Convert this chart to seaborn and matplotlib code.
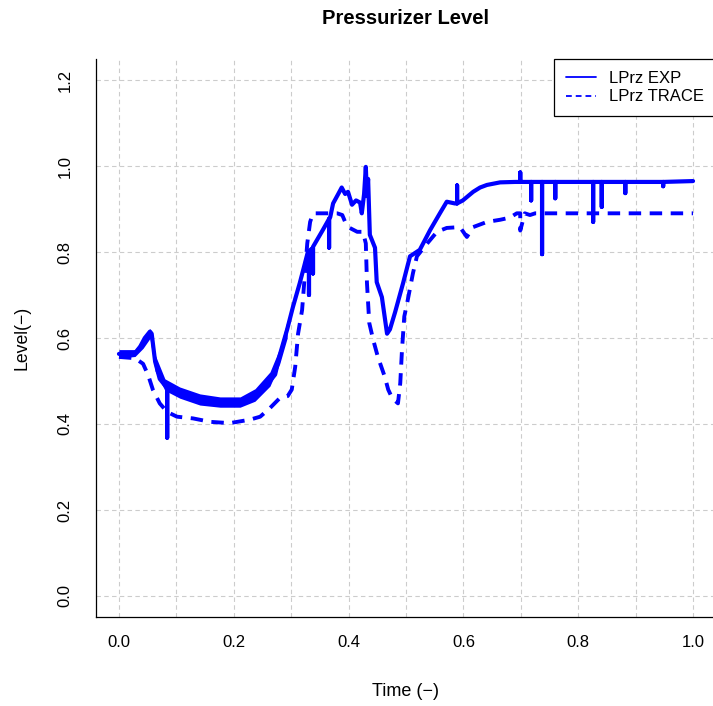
import numpy as np
import pandas as pd
import matplotlib
matplotlib.use("Agg")
import matplotlib.pyplot as plt
from matplotlib.lines import Line2D
import seaborn as sns

# ---------------- data ----------------
exp_t = [0.000, 0.016, 0.028, 0.037, 0.045, 0.054, 0.057, 0.063, 0.071, 0.080,
         0.084, 0.084, 0.084, 0.098, 0.115, 0.132, 0.159, 0.185, 0.211, 0.237,
         0.254, 0.272, 0.280, 0.293, 0.303, 0.315, 0.324, 0.329, 0.331, 0.331,
         0.331, 0.338, 0.338, 0.338, 0.355, 0.366, 0.366, 0.366, 0.368, 0.373,
         0.382, 0.388, 0.394, 0.399, 0.406, 0.413, 0.420, 0.423, 0.427, 0.430,
         0.432, 0.434, 0.437, 0.446, 0.449, 0.458, 0.467, 0.472, 0.481, 0.495,
         0.507, 0.524, 0.542, 0.559, 0.571, 0.585, 0.589, 0.589, 0.589, 0.599,
         0.617, 0.629, 0.641, 0.664, 0.690, 0.699, 0.699, 0.699, 0.718, 0.718,
         0.718, 0.737, 0.737, 0.737, 0.760, 0.760, 0.760, 0.826, 0.826, 0.826,
         0.841, 0.841, 0.841, 0.882, 0.882, 0.882, 0.948, 0.948, 0.948, 1.000]
exp_v = [0.563, 0.565, 0.565, 0.580, 0.600, 0.615, 0.610, 0.545, 0.505, 0.490,
         0.487, 0.368, 0.487, 0.475, 0.468, 0.462, 0.455, 0.451, 0.452, 0.468,
         0.485, 0.515, 0.560, 0.620, 0.672, 0.728, 0.774, 0.800, 0.802, 0.700,
         0.802, 0.810, 0.750, 0.812, 0.851, 0.877, 0.810, 0.877, 0.881, 0.913,
         0.935, 0.950, 0.935, 0.940, 0.910, 0.920, 0.915, 0.890, 0.935, 0.998,
         0.930, 0.970, 0.840, 0.810, 0.730, 0.695, 0.610, 0.620, 0.660, 0.728,
         0.790, 0.805, 0.851, 0.890, 0.917, 0.913, 0.913, 0.955, 0.913, 0.920,
         0.940, 0.950, 0.956, 0.962, 0.963, 0.963, 0.985, 0.963, 0.963, 0.920,
         0.963, 0.963, 0.795, 0.963, 0.963, 0.925, 0.963, 0.963, 0.870, 0.963,
         0.963, 0.905, 0.963, 0.963, 0.937, 0.963, 0.963, 0.953, 0.963, 0.965]

# noisy envelope of the measured signal in the early transient
band_t = [0.000, 0.028, 0.042, 0.054, 0.063, 0.080, 0.106, 0.141, 0.176,
          0.211, 0.237, 0.263, 0.280, 0.293]
band_lo = [0.553, 0.557, 0.576, 0.599, 0.523, 0.478, 0.460, 0.444, 0.439,
           0.439, 0.453, 0.488, 0.540, 0.600]
band_hi = [0.573, 0.573, 0.598, 0.622, 0.561, 0.505, 0.486, 0.470, 0.463,
           0.463, 0.482, 0.521, 0.576, 0.640]

trace_t = [0.000, 0.028, 0.042, 0.051, 0.059, 0.071, 0.084, 0.101, 0.129, 0.159,
           0.193, 0.228, 0.246, 0.263, 0.280, 0.294, 0.301, 0.307, 0.312, 0.319,
           0.328, 0.333, 0.338, 0.380, 0.389, 0.394, 0.402, 0.415, 0.425, 0.430,
           0.432, 0.436, 0.443, 0.451, 0.463, 0.469, 0.476, 0.486, 0.490, 0.493,
           0.497, 0.503, 0.512, 0.519, 0.537, 0.554, 0.571, 0.594, 0.606, 0.617,
           0.641, 0.664, 0.681, 0.693, 0.699, 0.699, 0.707, 0.716, 0.725, 1.000]
trace_v = [0.556, 0.553, 0.540, 0.513, 0.480, 0.448, 0.428, 0.417, 0.413, 0.405,
           0.402, 0.410, 0.417, 0.437, 0.460, 0.465, 0.480, 0.533, 0.610, 0.665,
           0.820, 0.870, 0.890, 0.890, 0.886, 0.870, 0.856, 0.847, 0.847, 0.820,
           0.728, 0.635, 0.595, 0.556, 0.510, 0.480, 0.460, 0.448, 0.495, 0.572,
           0.650, 0.688, 0.750, 0.790, 0.820, 0.847, 0.856, 0.858, 0.835, 0.858,
           0.870, 0.875, 0.880, 0.890, 0.890, 0.850, 0.890, 0.886, 0.890, 0.890]

series_labels = ["LPrz EXP", "LPrz TRACE"]
x_ticks = [0.0, 0.2, 0.4, 0.6, 0.8, 1.0]
y_ticks = [0.0, 0.2, 0.4, 0.6, 0.8, 1.0, 1.2]

# ---------------- figure ----------------
sns.set_theme(style="white")
plt.rcParams["font.family"] = ["Liberation Sans", "DejaVu Sans"]
plt.rcParams["text.color"] = "black"

W, H = 713, 706
fig = plt.figure(figsize=(W / 100, H / 100), dpi=100)
x_left, x_right = 96, 716
y_top, y_bot = 59.4, 616.6
ax = fig.add_axes([x_left / W, 1 - y_bot / H, (x_right - x_left) / W, (y_bot - y_top) / H])

blue = "#0000FF"
exp_df = pd.DataFrame({"t": exp_t, "v": exp_v})
trace_df = pd.DataFrame({"t": trace_t, "v": trace_v})

ax.fill_between(band_t, band_lo, band_hi, color=blue, lw=0, zorder=3)
sns.lineplot(data=exp_df, x="t", y="v", ax=ax, color=blue, lw=3.0,
             estimator=None, sort=False, zorder=4)
sns.lineplot(data=trace_df, x="t", y="v", ax=ax, color=blue, lw=2.8,
             estimator=None, sort=False, zorder=4)
ax.lines[-1].set_dashes([3.2, 2.2])

ax.set_xlim(-0.04, 1.04)
ax.set_ylim(-0.048, 1.248)
ax.set_xticks(x_ticks)
ax.set_xticks(np.arange(0.1, 1.0, 0.2), minor=True)
ax.set_yticks(y_ticks)
ax.set_xticklabels([f"{v:.1f}" for v in x_ticks])
ax.set_yticklabels([f"{v:.1f}" for v in y_ticks], rotation=90, va="center")

grid_kw = dict(color="#cccccc", lw=0.8, linestyle=(0, (4, 3)))
ax.grid(True, which="major", axis="both", **grid_kw)
ax.grid(True, which="minor", axis="x", **grid_kw)
ax.set_axisbelow(True)

for s in ["top", "right"]:
    ax.spines[s].set_visible(False)
for s in ["left", "bottom"]:
    ax.spines[s].set_color("black")
    ax.spines[s].set_linewidth(0.9)

ax.tick_params(axis="both", which="major", direction="out", length=8, width=0.9,
               color="black", labelsize=12, labelcolor="black")
ax.tick_params(axis="x", which="major", pad=5)
ax.tick_params(axis="y", which="major", pad=9)
ax.tick_params(axis="x", which="minor", length=0)
ax.set_xlabel("")
ax.set_ylabel("")

handles = [Line2D([0], [0], color=blue, lw=1.3),
           Line2D([0], [0], color=blue, lw=1.3, dashes=[3.2, 2.2])]
leg = ax.legend(handles, series_labels, loc="upper right", bbox_to_anchor=(1.0, 1.0),
                borderaxespad=0, frameon=True, fancybox=False, fontsize=12,
                handlelength=1.8, handletextpad=0.8, labelspacing=0.2,
                borderpad=0.7)
leg.get_frame().set_edgecolor("black")
leg.get_frame().set_linewidth(0.9)
leg.get_frame().set_alpha(1)
for txt in leg.get_texts():
    txt.set_color("black")

fig.text(406 / W, 1 - 18 / H, "Pressurizer Level", ha="center", va="center",
         fontsize=14.5, fontweight="bold")
fig.text(406 / W, 1 - 691 / H, "Time (−)", ha="center", va="center", fontsize=13)
fig.text(22 / W, 1 - 338 / H, "Level(−)", ha="center", va="center", fontsize=12.7,
         rotation=90)

fig.savefig("out.png", dpi=100, facecolor="white")
